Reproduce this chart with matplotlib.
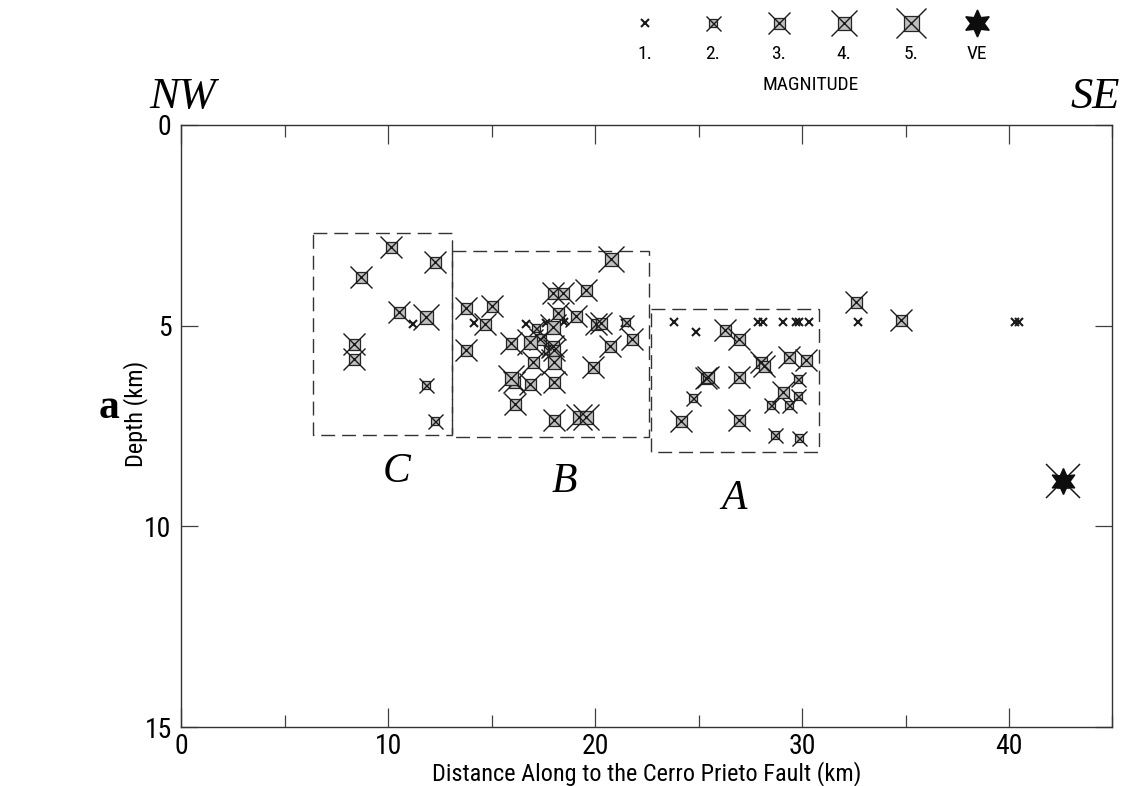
"""Cross-section of hypocentres along the Cerro Prieto fault, with the
A/B/C cluster boxes and the volcanic event (VE) marked."""
import matplotlib
matplotlib.use("Agg")
import matplotlib.pyplot as plt
from matplotlib.patches import Rectangle
from matplotlib.ticker import MultipleLocator

SANS = ["Roboto Condensed", "Liberation Sans Narrow", "DejaVu Sans"]
SERIF = ["Liberation Serif", "DejaVu Serif"]

# event catalogue: distance along fault [km], depth [km], magnitude class
dist = [
    # cluster C
    10.13, 12.24, 8.70, 10.51, 11.83, 11.19, 8.34, 8.34, 11.83, 12.24,
    # cluster B
    20.77, 17.95, 18.44, 19.53, 13.73, 15.02, 14.12, 14.65, 18.19, 19.05,
    16.67, 17.63, 18.49, 17.15, 17.95, 20.05, 20.29, 21.50, 15.94, 16.83,
    17.31, 17.95, 18.03, 17.71, 20.72, 21.79, 13.77, 16.99, 18.03, 19.88,
    15.94, 16.05, 16.86, 18.03, 16.10, 18.03, 19.21, 19.53, 21.45,
    # cluster A
    23.83, 24.88, 26.29, 26.97, 27.86, 28.10, 29.10, 29.71, 29.87, 30.32,
    28.02, 28.18, 29.39, 30.19, 25.36, 25.44, 26.97, 29.79, 29.06, 29.79,
    24.71, 28.50, 29.35, 24.15, 26.97, 28.71, 29.87,
    # south-east of A
    32.60, 32.70, 34.80, 40.30, 40.50,
]
depth = [
    3.03, 3.41, 3.78, 4.65, 4.79, 4.96, 5.46, 5.84, 6.48, 7.37,
    3.35, 4.19, 4.19, 4.11, 4.57, 4.51, 4.94, 4.96, 4.68, 4.76,
    4.96, 4.94, 4.92, 5.07, 5.04, 4.96, 4.94, 4.92, 5.42, 5.40,
    5.32, 5.51, 5.61, 5.61, 5.51, 5.34, 5.61, 5.90, 5.90, 6.02,
    6.31, 6.40, 6.45, 6.40, 6.94, 7.35, 7.28, 7.28, 4.94,
    4.92, 5.15, 5.11, 5.34, 4.92, 4.92, 4.92, 4.92, 4.92, 4.92,
    5.90, 6.00, 5.77, 5.86, 6.31, 6.29, 6.29, 6.34, 6.65, 6.75,
    6.79, 6.98, 6.98, 7.37, 7.35, 7.72, 7.81,
    4.41, 4.91, 4.86, 4.91, 4.91,
]
mag = [
    3, 3, 3, 3, 4, 1, 3, 3, 2, 2,
    4, 3, 3, 3, 3, 3, 1, 3, 3, 3,
    1, 1, 1, 2, 4, 3, 3, 2, 3, 4,
    3, 3, 3, 2, 3, 3, 3, 3, 4, 3,
    4, 3, 3, 3, 3, 3, 4, 4, 1,
    1, 1, 3, 3, 1, 1, 1, 1, 1, 1,
    3, 3, 3, 3, 3, 3, 3, 2, 3, 2,
    2, 2, 2, 3, 3, 2, 2,
    3, 1, 3, 1, 1,
]

ve_dist, ve_depth = 42.6, 8.88

# cluster boxes: label, x0, x1, top, bottom, label position
boxes = ["C", "B", "A"]
box_x0 = [6.34, 13.10, 22.70]
box_x1 = [13.10, 22.60, 30.80]
box_top = [2.69, 3.13, 4.59]
box_bot = [7.72, 7.77, 8.15]
box_lab_x = [10.4, 18.5, 26.7]
box_lab_y = [8.65, 8.9, 9.3]

legend_labels = ["1.", "2.", "3.", "4.", "5.", "VE"]

# marker geometry per magnitude class (pixels): X span, square side
X_PX = {1: 8, 2: 15, 3: 22, 4: 26, 5: 30}
SQ_PX = {1: 4, 2: 8, 3: 11, 4: 13, 5: 15}
PX = 72.0 / 100.0  # px -> pt at dpi 100

star6 = (6, 1, 0)


def quake(ax, x, y, m, **kw):
    if m > 1:
        ax.plot(x, y, "s", ms=SQ_PX[m] * PX, mfc="0.75", mec="0.15",
                mew=0.9, ls="none", **kw)
    ax.plot(x, y, "x", ms=X_PX[m] * PX, mec="0.1",
            mew=1.5 if m == 1 else 1.0, ls="none", **kw)


def volcanic(ax, x, y, size_px, with_x=True, **kw):
    if with_x:
        ax.plot(x, y, "x", ms=34 * PX, mec="0.1", mew=1.1, ls="none", **kw)
        ax.plot(x, y, "s", ms=13 * PX, mfc="none", mec="0.2", mew=0.8,
                ls="none", **kw)
    ax.plot(x, y, marker=star6, ms=size_px * PX, color="0.05",
            ls="none", **kw)


def sans(size):
    return dict(family=SANS, fontsize=size, fontstretch="condensed")


fig = plt.figure(figsize=(11.34, 7.86), dpi=100)
ax = fig.add_axes([0.160, 0.075, 0.821, 0.766])

for x0, x1, t, b in zip(box_x0, box_x1, box_top, box_bot):
    ax.add_patch(Rectangle((x0, t), x1 - x0, b - t, fill=False,
                           ec="0.2", lw=1.0, ls=(0, (10, 5))))
for name, lx, ly in zip(boxes, box_lab_x, box_lab_y):
    ax.text(lx, ly, name, fontsize=30, style="italic", family=SERIF,
            ha="center", va="center")

for m in sorted(set(mag)):
    xs = [d for d, k in zip(dist, mag) if k == m]
    ys = [z for z, k in zip(depth, mag) if k == m]
    quake(ax, xs, ys, m)
volcanic(ax, [ve_dist], [ve_depth], 26)

ax.set_xlim(0, 45)
ax.set_ylim(15, 0)
ax.xaxis.set_major_locator(MultipleLocator(10))
ax.xaxis.set_minor_locator(MultipleLocator(5))
ax.yaxis.set_major_locator(MultipleLocator(5))
ax.tick_params(axis="x", which="major", direction="in", length=13.5,
               top=True, width=0.9, color="0.25", pad=4)
ax.tick_params(axis="x", which="minor", direction="in", length=8.5,
               top=True, width=0.9, color="0.25")
ax.tick_params(axis="y", which="major", direction="in", length=12.5,
               right=True, width=0.9, color="0.25", pad=7)
for lab in ax.get_xticklabels() + ax.get_yticklabels():
    lab.update(sans(20))
for sp in ax.spines.values():
    sp.set_color("0.2")
    sp.set_linewidth(1.0)

ax.set_xlabel("Distance Along to the Cerro Prieto Fault (km)", labelpad=1,
              **sans(17.5))
ax.set_ylabel("Depth (km)", **sans(17.5))
ax.yaxis.set_label_coords(-0.036, 0.52)

fig.text(0.161, 0.877, "NW", fontsize=32, style="italic", family=SERIF,
         ha="center", va="center")
fig.text(0.966, 0.877, "SE", fontsize=32, style="italic", family=SERIF,
         ha="center", va="center")
fig.text(0.096, 0.481, "a", fontsize=30, weight="bold", family=SERIF,
         ha="center", va="center")

# magnitude key along the top edge
key = fig.add_axes([0, 0, 1, 1], facecolor="none")
key.set_xlim(0, 1134)
key.set_ylim(786, 0)
key.axis("off")
key_x = [645, 713, 779, 844, 911, 977]
for i, (kx, text) in enumerate(zip(key_x, legend_labels)):
    if text == "VE":
        volcanic(key, [kx], [23], 27, with_x=False)
    else:
        quake(key, [kx], [23], i + 1)
    key.text(kx, 54, text, ha="center", va="center", **sans(14))
key.text(811, 85, "MAGNITUDE", ha="center", va="center", **sans(14))

fig.savefig("out.png", dpi=100)
